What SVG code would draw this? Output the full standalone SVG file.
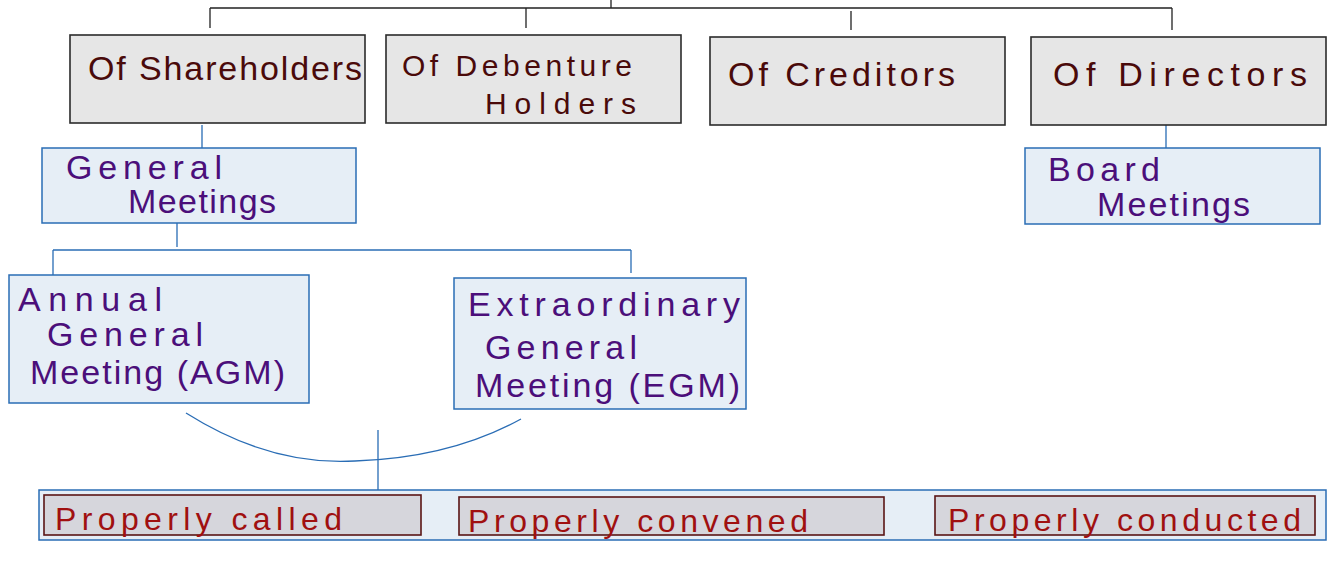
<svg xmlns="http://www.w3.org/2000/svg" width="1328" height="568" viewBox="0 0 1328 568">
<style>
.gray{fill:#e6e6e6;stroke:#2b2b2b;stroke-width:1.6}
.blue{fill:#e6eef6;stroke:#2a6db5;stroke-width:1.5}
.pr{fill:#d6d6dc;stroke:#5a1414;stroke-width:1.6}
.tk{fill:none;stroke:#222;stroke-width:1.3}
.bl{fill:none;stroke:#2a6db5;stroke-width:1.3}
text{font-family:"Liberation Sans","DejaVu Sans",sans-serif;font-size:34px}
.t1{fill:#4a0a0a}
.t2{fill:#4b0f7a}
.t3{fill:#a01010;font-size:32px}
.sm{font-size:30px}
</style>
<rect width="1328" height="568" fill="#ffffff"/>
<g id="connectors">
<path class="tk" d="M611 0V8M210 8H1172M210 8V28M526 8V28M851 11V30M1172 8V30"/>
<path class="bl" d="M202 125V148M1166 125V148M177 223V247M53 250H631M53 250V275M631 250V273M378 430V490"/>
<path class="bl" d="M186 413Q270 466 355 461Q450 458 521 419"/>
</g>
<g id="n-shareholders"><rect class="gray" x="70" y="35" width="295" height="88"/><text class="t1" x="88" y="80" textLength="274" lengthAdjust="spacing">Of Shareholders</text></g>
<g id="n-debenture"><rect class="gray" x="386" y="35" width="295" height="88"/><text class="t1 sm" x="402" y="76" textLength="230" lengthAdjust="spacing">Of Debenture</text><text class="t1 sm" x="485" y="114" textLength="151" lengthAdjust="spacing">Holders</text></g>
<g id="n-creditors"><rect class="gray" x="710" y="37" width="295" height="88"/><text class="t1" x="728" y="86" textLength="227" lengthAdjust="spacing">Of Creditors</text></g>
<g id="n-directors"><rect class="gray" x="1031" y="37" width="295" height="88"/><text class="t1" x="1053" y="86" textLength="254" lengthAdjust="spacing">Of Directors</text></g>
<g id="n-general"><rect class="blue" x="42" y="148" width="314" height="75"/><text class="t2" x="66" y="179" textLength="156" lengthAdjust="spacing">General</text><text class="t2" x="128" y="213" textLength="148" lengthAdjust="spacing">Meetings</text></g>
<g id="n-board"><rect class="blue" x="1025" y="148" width="295" height="76"/><text class="t2" x="1048" y="181" textLength="112" lengthAdjust="spacing">Board</text><text class="t2" x="1097" y="216" textLength="153" lengthAdjust="spacing">Meetings</text></g>
<g id="n-agm"><rect class="blue" x="9" y="275" width="300" height="128"/><text class="t2" x="18" y="311" textLength="144" lengthAdjust="spacing">Annual</text><text class="t2" x="47" y="346" textLength="156" lengthAdjust="spacing">General</text><text class="t2" x="30" y="384" textLength="255" lengthAdjust="spacing">Meeting (AGM)</text></g>
<g id="n-egm"><rect class="blue" x="454" y="278" width="292" height="131"/><text class="t2" x="468" y="316" textLength="272" lengthAdjust="spacing">Extraordinary</text><text class="t2" x="485" y="359" textLength="152" lengthAdjust="spacing">General</text><text class="t2" x="475" y="397" textLength="265" lengthAdjust="spacing">Meeting (EGM)</text></g>
<g id="n-properly">
<rect class="blue" x="39" y="490" width="1287" height="50"/>
<g id="n-called"><rect class="pr" x="44" y="495" width="377" height="40"/><text class="t3" x="55" y="530" textLength="287" lengthAdjust="spacing">Properly called</text></g>
<g id="n-convened"><rect class="pr" x="459" y="497" width="425" height="38"/><text class="t3" x="468" y="532" textLength="340" lengthAdjust="spacing">Properly convened</text></g>
<g id="n-conducted"><rect class="pr" x="935" y="496" width="380" height="39"/><text class="t3" x="948" y="531" textLength="353" lengthAdjust="spacing">Properly conducted</text></g>
</g>
</svg>
